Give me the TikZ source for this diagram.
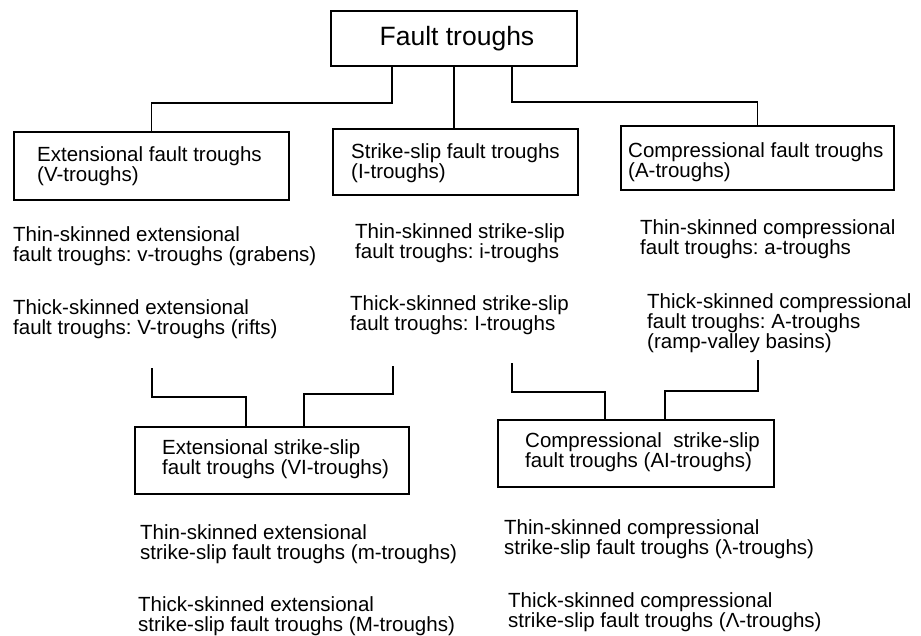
\documentclass[tikz,border=0pt]{standalone}
\usepackage{fontspec}
\setmainfont{Liberation Sans}
\frenchspacing
\usetikzlibrary{positioning,
	calc}
\tikzstyle{box}=[draw, line width=1.9pt, inner sep=0, anchor=north west]
\tikzstyle{txt}=[align=left, inner sep=0, anchor=north west,
		font=\fontsize{20.5}{20}\selectfont]
\tikzstyle{link}=[line width=1.8pt]

\begin{document}
\begin{tikzpicture}[x=1pt, y=-1pt]
	\useasboundingbox (0,0) rectangle (921,636);
	% root
	\node[box, minimum width=246pt, minimum height=55pt] (ft) at (330,10) {};
	\node[inner sep=0, font=\fontsize{26.5}{26}\selectfont] (ft-t) at ([xshift=3pt]ft.center) {Fault troughs};
	% first level
	\node[box, minimum width=275pt, minimum height=68pt] (ext) at (13,131) {};
	\node[box, minimum width=245pt, minimum height=66pt] (ss) at (332,128) {};
	\node[box, minimum width=273pt, minimum height=64pt] (cmp) at (620,125) {};
	\node[txt] (ext-t) at ([xshift=24pt, yshift=-15pt]ext.north west) {Extensional fault troughs\\(V-troughs)};
	\node[txt] (ss-t) at ([xshift=19pt, yshift=-15pt]ss.north west) {Strike-slip fault troughs\\(I-troughs)};
	\node[txt] (cmp-t) at ([xshift=8pt, yshift=-17pt]cmp.north west) {Compressional fault troughs\\(A-troughs)};
	\draw[link] ([xshift=-62pt]ft.south) -- ++(0,36) -| (ext.north);
	\draw[link] (ft.south) -- (ft.south |- ss.north);
	\draw[link] ([xshift=58pt]ft.south) -- ++(0,35) -| (cmp.north);
	% thin / thick
	\node[txt] (v-thin) at (13,226) {Thin-skinned extensional\\fault troughs: v-troughs (grabens)};
	\node[txt] (v-thick) at (13,299) {Thick-skinned extensional\\fault troughs: V-troughs (rifts)};
	\node[txt] (i-thin) at (355,223) {Thin-skinned strike-slip\\fault troughs: i-troughs};
	\node[txt] (i-thick) at (350,295) {Thick-skinned strike-slip\\fault troughs: I-troughs};
	\node[txt] (a-thin) at (640,219) {Thin-skinned compressional\\fault troughs: a-troughs};
	\node[txt] (a-thick) at (647,293) {Thick-skinned compressional\\fault troughs: A-troughs\\(ramp-valley basins)};
	% second level
	\node[box, minimum width=274pt, minimum height=67pt] (esl) at (134,426) {};
	\node[box, minimum width=276pt, minimum height=67pt] (csl) at (497,419) {};
	\node[txt] (esl-t) at ([xshift=28pt, yshift=-13pt]esl.north west) {Extensional strike-slip\\fault troughs (VI-troughs)};
	\node[txt] (csl-t) at ([xshift=28pt, yshift=-13pt]csl.north west) {Compressional\ \ strike-slip\\fault troughs (AI-troughs)};
	\coordinate (esl-a) at (152,368);
	\coordinate (esl-b) at (393,366);
	\coordinate (csl-a) at (512,363);
	\coordinate (csl-b) at (758,360);
	\draw[link] (esl-a) -- ++(0,29) -| ([xshift=-26pt]esl.north);
	\draw[link] (esl-b) -- ++(0,28) -| ([xshift=32pt]esl.north);
	\draw[link] (csl-a) -- ++(0,29) -| ([xshift=-31pt]csl.north);
	\draw[link] (csl-b) -- ++(0,31) -| ([xshift=29pt]csl.north);
	% thin / thick, second level
	\node[txt] (m-thin) at (140,524) {Thin-skinned extensional\\strike-slip fault troughs (m-troughs)};
	\node[txt] (m-thick) at (138,596) {Thick-skinned extensional\\strike-slip fault troughs (M-troughs)};
	\node[txt] (l-thin) at (504,519) {Thin-skinned compressional\\strike-slip fault troughs (λ-troughs)};
	\node[txt] (l-thick) at (508,592) {Thick-skinned compressional\\strike-slip fault troughs (Λ-troughs)};
\end{tikzpicture}
\end{document}
